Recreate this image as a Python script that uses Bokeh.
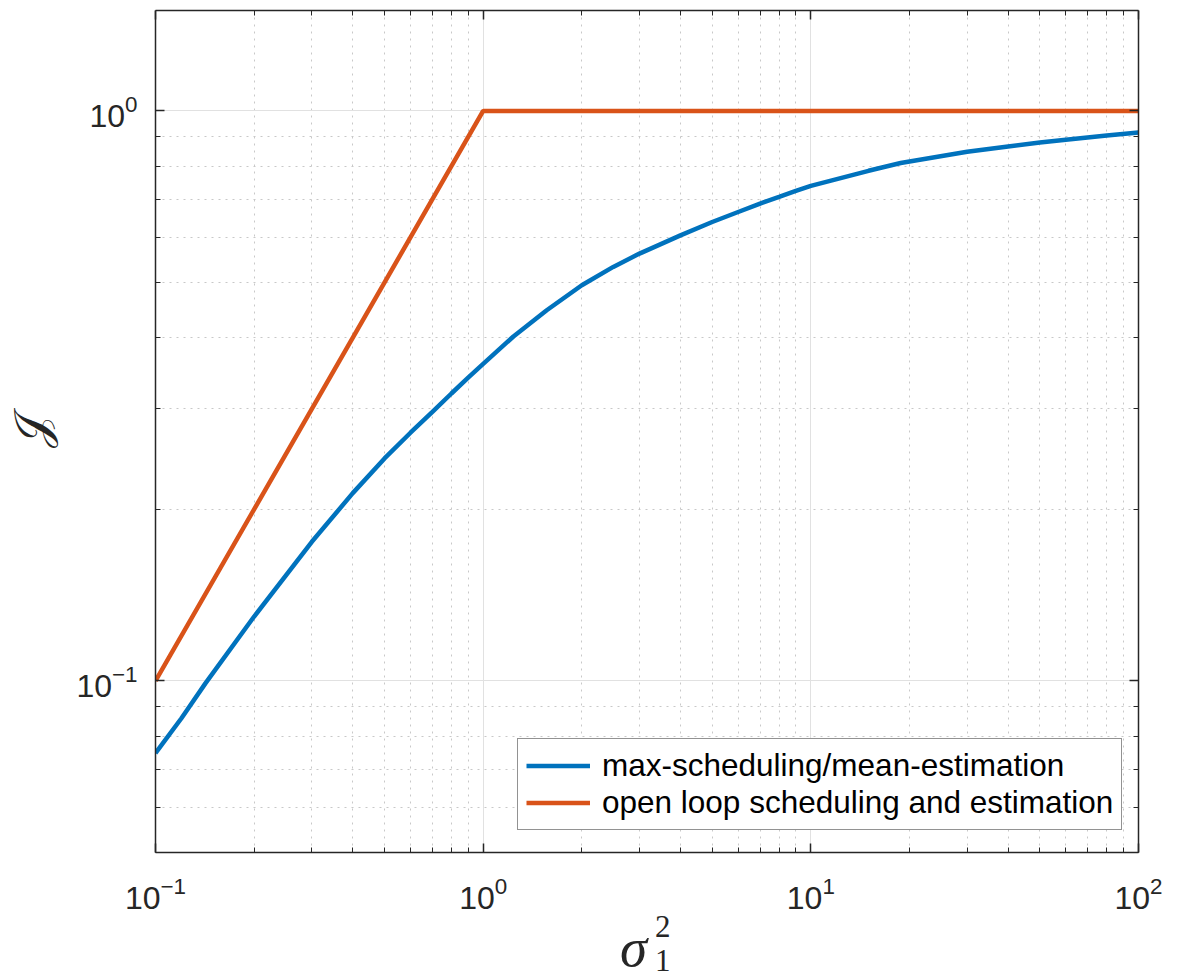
from bokeh.plotting import figure
from bokeh.layouts import column
from bokeh.models import (FixedTicker, LogAxis, Legend, LegendItem, Div,
                          CustomJSTickFormatter)
from bokeh.embed import file_html
from bokeh.resources import INLINE

# ---- data -------------------------------------------------------------
sigma_blue = [0.1, 0.12, 0.142, 0.2, 0.3, 0.4, 0.5, 0.6, 0.7, 0.8, 0.9, 1.0,
              1.237, 1.563, 2.0, 2.495, 3.0, 4.0, 5.0, 6.0, 7.0, 8.0, 9.0,
              10, 15, 18.8, 30, 40, 50, 60, 80, 100]
J_blue = [0.0747, 0.086, 0.099, 0.1297, 0.1754, 0.2135, 0.2456, 0.2725,
          0.2965, 0.3193, 0.3405, 0.3600, 0.402, 0.447, 0.4944, 0.5324,
          0.5619, 0.6049, 0.6384, 0.6646, 0.6876, 0.7063, 0.7236, 0.7385,
          0.785, 0.810, 0.848, 0.866, 0.880, 0.890, 0.905, 0.916]

sigma_orange = [0.1, 1.0, 100]
J_orange = [0.1, 1.0, 1.0]

series_labels = ["max-scheduling/mean-estimation",
                 "open loop scheduling and estimation"]

x_major = [0.1, 1, 10, 100]
x_minor = [0.2, 0.3, 0.4, 0.5, 0.6, 0.7, 0.8, 0.9,
           2, 3, 4, 5, 6, 7, 8, 9,
           20, 30, 40, 50, 60, 70, 80, 90]
y_major = [0.1, 1]
y_minor = [0.05, 0.06, 0.07, 0.08, 0.09,
           0.2, 0.3, 0.4, 0.5, 0.6, 0.7, 0.8, 0.9]

x_label_base, x_label_sup, x_label_sub = "σ", "2", "1"
y_label = "𝒥"

BLUE = "#0072BD"
ORANGE = "#D95319"
AX = "#262626"

p = figure(width=1188, height=918, x_axis_type="log", y_axis_type="log",
           x_range=(0.1, 100), y_range=(0.05, 1.5),
           output_backend="svg", toolbar_location=None,
           min_border_left=155, min_border_right=50,
           min_border_top=10, min_border_bottom=66)
p.background_fill_color = "white"
p.border_fill_color = "white"
p.outline_line_color = None

xt = FixedTicker(ticks=x_major, minor_ticks=x_minor)
yt = FixedTicker(ticks=y_major, minor_ticks=y_minor)

p.xaxis.ticker = xt
p.yaxis.ticker = yt
p.xgrid.ticker = xt
p.ygrid.ticker = yt

for g in (p.xgrid, p.ygrid):
    g.grid_line_color = "#e1e1e1"
    g.grid_line_width = 1
    g.minor_grid_line_color = "#c8c8c8"
    g.minor_grid_line_dash = "2 5"
    g.minor_grid_line_width = 1

blank = CustomJSTickFormatter(code="return ''")
right = LogAxis(ticker=yt, formatter=blank)
above = LogAxis(ticker=xt, formatter=blank)
p.add_layout(right, "right")
p.add_layout(above, "above")


def style(ax, show):
    ax.axis_line_color = AX
    ax.axis_line_width = 1.5
    ax.major_tick_in = 9
    ax.major_tick_out = 0
    ax.minor_tick_in = 5
    ax.minor_tick_out = 0
    ax.major_tick_line_color = AX
    ax.minor_tick_line_color = AX
    ax.major_tick_line_width = 1.5
    ax.minor_tick_line_width = 1
    ax.major_label_text_font = "Liberation Sans"
    ax.major_label_text_font_size = "32px"
    ax.major_label_text_color = AX
    if not show:
        ax.major_label_standoff = 0


style(p.below[0], True)
style(p.left[0], True)
style(right, False)
style(above, False)

p.below[0].major_label_standoff = 24
p.left[0].major_label_standoff = 18

yax = p.left[0]
yax.axis_label = y_label
yax.axis_label_text_font = "DejaVu Serif"
yax.axis_label_text_font_style = "normal"
yax.axis_label_text_font_size = "48px"
yax.axis_label_text_color = AX
yax.axis_label_standoff = 14

r_blue = p.line(sigma_blue, J_blue, line_color=BLUE, line_width=4.5)
r_orange = p.line(sigma_orange, J_orange, line_color=ORANGE, line_width=4.5)

legend = Legend(items=[LegendItem(label=series_labels[0], renderers=[r_blue]),
                       LegendItem(label=series_labels[1], renderers=[r_orange])],
                location=(362, 22))
legend.label_text_font = "Liberation Sans"
legend.label_text_font_size = "31.5px"
legend.label_text_color = "black"
legend.glyph_width = 64
legend.glyph_height = 33
legend.label_height = 33
legend.label_standoff = 12
legend.spacing = 0
legend.padding = 8
legend.margin = 0
legend.border_line_color = AX
legend.border_line_width = 1.5
legend.background_fill_color = "white"
legend.background_fill_alpha = 1
p.add_layout(legend)

# x-axis label sigma_1^2, as HTML text below the figure
xlabel_html = (
    '<div style="position:relative;width:1188px;height:60px;'
    'font-family:\'Liberation Serif\';color:#262626;">'
    '<span style="position:absolute;left:620px;top:2px;font-size:55px;'
    'font-style:italic;line-height:1;">%s</span>'
    '<span style="position:absolute;left:655px;top:-7px;font-size:31px;'
    'line-height:1;">%s</span>'
    '<span style="position:absolute;left:655px;top:27px;font-size:31px;'
    'line-height:1;">%s</span>'
    '</div>' % (x_label_base, x_label_sup, x_label_sub)
)
xlabel = Div(text=xlabel_html, width=1188, height=60,
             styles={"margin": "0", "padding": "0", "overflow": "visible"})

layout = column(p, xlabel, spacing=0)

open("out.html", "w").write(file_html(layout, INLINE))
